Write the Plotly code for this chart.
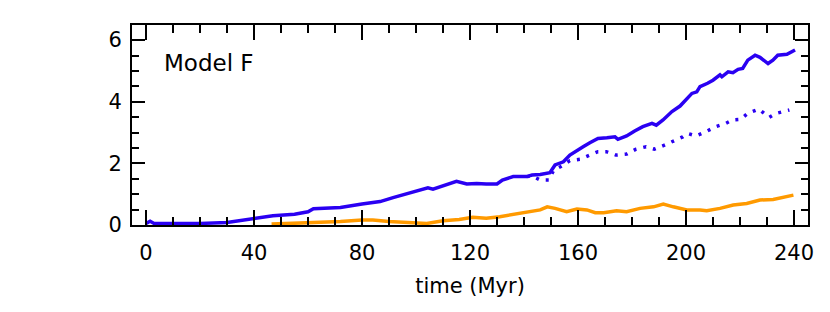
import plotly.graph_objects as go

# ---- data ----
blue_t = [0, 1.5, 3, 10, 20, 30, 35, 40, 47, 55, 60, 62, 67, 72, 80, 86.7, 91.5, 97.8,
          101.5, 104.4, 106.3, 110, 112.6, 115, 118.8, 122.5, 126, 130, 132, 136, 141,
          143, 146, 149.6, 151.5, 154.6, 157, 159.6, 161.9, 164.4, 167.4, 170.7, 173.7,
          174.8, 178, 181, 184, 187.4, 189, 191.5, 194.8, 197.8, 200.3, 202.2, 204,
          205.2, 208, 210, 212.6, 213.3, 215.6, 217.4, 219.3, 221, 222.9, 225.6, 227.4,
          230.4, 232.2, 234, 237.4, 240.4]
blue_v = [0.05, 0.12, 0.05, 0.05, 0.05, 0.08, 0.14, 0.22, 0.30, 0.35, 0.43, 0.53, 0.55,
          0.57, 0.68, 0.76, 0.89, 1.05, 1.13, 1.21, 1.16, 1.26, 1.35, 1.42, 1.33, 1.35,
          1.33, 1.33, 1.46, 1.57, 1.57, 1.62, 1.64, 1.70, 1.95, 2.05, 2.27, 2.43, 2.54,
          2.67, 2.81, 2.83, 2.86, 2.78, 2.89, 3.05, 3.19, 3.30, 3.24, 3.41, 3.68, 3.86,
          4.11, 4.27, 4.32, 4.49, 4.60, 4.70, 4.87, 4.81, 4.97, 4.94, 5.05, 5.08, 5.35,
          5.51, 5.44, 5.24, 5.35, 5.51, 5.54, 5.68]

dot_t = [141, 143, 146, 149.2, 151, 153.5, 157, 160.7, 164.4, 167.4, 170.5, 174, 178,
         181.5, 185.2, 188.3, 192, 195, 198.8, 200.6, 203.7, 207.4, 211, 214.8, 217.2,
         220.3, 222.8, 227, 230.8, 233.3, 238.3]
dot_v = [1.57, 1.59, 1.46, 1.46, 1.78, 1.89, 2.09, 2.13, 2.27, 2.38, 2.38, 2.27, 2.30,
         2.46, 2.54, 2.46, 2.59, 2.70, 2.86, 2.97, 2.89, 3.03, 3.19, 3.30, 3.41, 3.43,
         3.62, 3.76, 3.49, 3.62, 3.73]

orange_t = [46.5, 50, 54.5, 58, 62, 72, 80, 84, 90, 97.8, 104, 110, 116, 121, 126, 131,
            137, 143, 146, 148.6, 151.5, 155.8, 159.6, 163.3, 166.4, 169.5, 174.3, 178,
            183, 188, 191.6, 195.3, 200.3, 205.2, 207.7, 212.6, 217.5, 222.5, 227.4,
            232.3, 237.3, 239.8]
orange_v = [0.03, 0.04, 0.05, 0.06, 0.07, 0.11, 0.16, 0.16, 0.11, 0.07, 0.05, 0.14, 0.18,
            0.25, 0.22, 0.27, 0.35, 0.43, 0.49, 0.59, 0.54, 0.43, 0.52, 0.49, 0.40, 0.40,
            0.46, 0.43, 0.54, 0.59, 0.68, 0.59, 0.49, 0.49, 0.46, 0.54, 0.65, 0.70, 0.81,
            0.83, 0.92, 0.97]

x_ticks = [0, 40, 80, 120, 160, 200, 240]
y_ticks = [0, 2, 4, 6]
label_text = "Model F"
x_title = "time (Myr)"

BLUE = "#2a00f2"
ORANGE = "#ff9a00"
FONT = "DejaVu Sans"

fig = go.Figure()
fig.add_trace(go.Scatter(x=orange_t, y=orange_v, mode="lines",
                         line=dict(color=ORANGE, width=3.5), showlegend=False))
fig.add_trace(go.Scatter(x=dot_t, y=dot_v, mode="lines",
                         line=dict(color=BLUE, width=3.5, dash="3px,7px"), showlegend=False))
fig.add_trace(go.Scatter(x=blue_t, y=blue_v, mode="lines",
                         line=dict(color=BLUE, width=3.5), showlegend=False))

axis_common = dict(showline=True, linecolor="black", linewidth=2, mirror="ticks",
                   ticks="inside", tickcolor="black", tickwidth=2, showgrid=False,
                   zeroline=False, tickfont=dict(family=FONT, size=21, color="black"))

fig.update_xaxes(range=[-5.2, 245.2], tickvals=x_ticks, ticklen=15,
                 minor=dict(dtick=10, tick0=0, ticks="inside", ticklen=8,
                            tickwidth=2, tickcolor="black"),
                 ticklabelstandoff=8,
                 title=dict(text=x_title, font=dict(family=FONT, size=21, color="black"),
                            standoff=14),
                 **axis_common)
fig.update_yaxes(range=[0, 6.49], tickvals=y_ticks, ticklen=13,
                 minor=dict(dtick=0.5, tick0=0, ticks="inside", ticklen=7,
                            tickwidth=2, tickcolor="black"),
                 ticklabelstandoff=4,
                 **axis_common)

fig.add_annotation(x=0.044, y=0.81, xref="paper", yref="paper", text=label_text,
                   showarrow=False, xanchor="left", yanchor="middle",
                   font=dict(family=FONT, size=23, color="black"))

# page body has an 8px default margin, so compensate in the figure margins
fig.update_layout(width=830, height=312, margin=dict(l=124, r=30, t=17, b=95),
                  plot_bgcolor="white", paper_bgcolor="white")

fig.write_html("out.html")
